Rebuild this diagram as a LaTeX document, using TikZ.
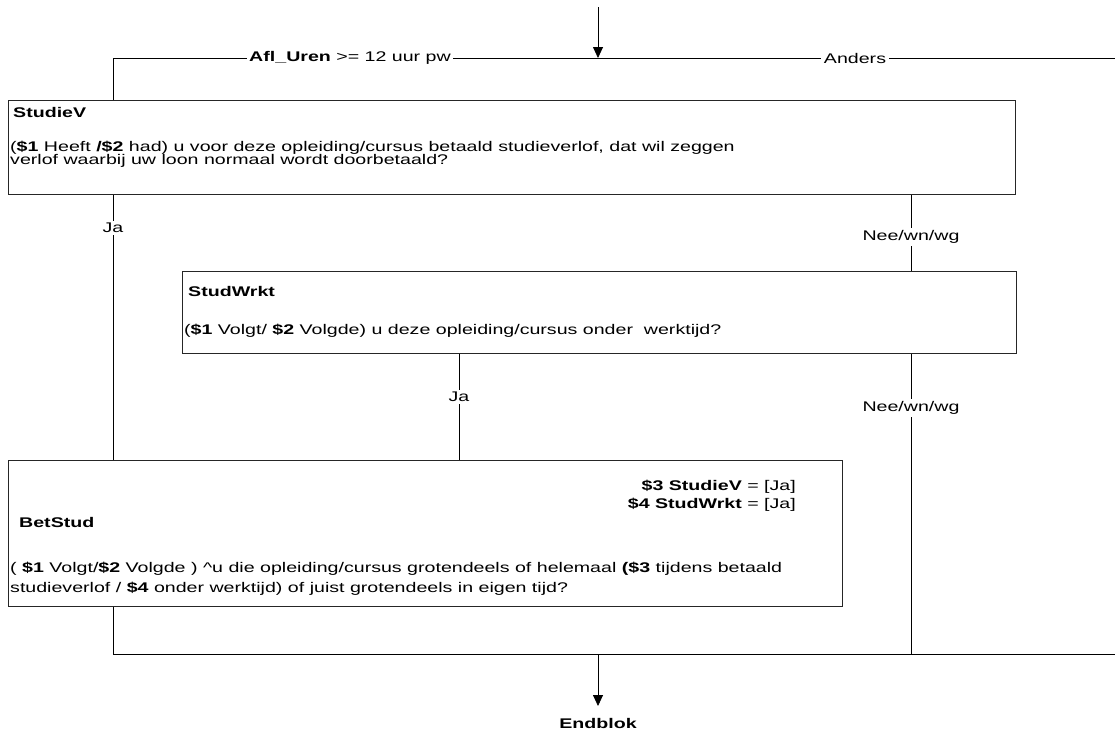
\documentclass[tikz,border=0pt]{standalone}
\usepackage{fontspec}
\setmainfont[FakeStretch=1.4]{Liberation Sans}
\usetikzlibrary{arrows.meta, positioning}

\newcommand{\qfont}{\fontsize{14}{14}\selectfont}

\tikzset{
  qbox/.style={draw=black!85, line width=1.2pt, anchor=north west, inner sep=0pt},
  qtitle/.style={anchor=base west, inner sep=0pt, font=\qfont\bfseries},
  qtext/.style={anchor=base west, inner sep=0pt, font=\qfont},
  route/.style={line width=0.8pt},
  cond/.style={fill=white, inner sep=2.5pt, font=\qfont},
}

\begin{document}
\begin{tikzpicture}[x=1pt, y=-1pt, font=\qfont]
            \useasboundingbox (0,0) rectangle (1115,734);
            % Question boxes
            \node[qbox, minimum width=1007pt, minimum height=94pt] (studiev) at (8,100) {};
            \node[qbox, minimum width=834pt, minimum height=82pt] (studwrkt) at (182,271) {};
            \node[qbox, minimum width=834pt, minimum height=146pt] (betstud) at (8,460) {};
            % StudieV texts
            \node[qtitle] (studievName) at (13,117) {StudieV};
            \node[qtext] (studievQa) at (10,151)
               {(\textbf{\$1} Heeft \textbf{/\$2} had) u voor deze opleiding/cursus betaald studieverlof, dat wil zeggen};
            \node[qtext] (studievQb) at (10,164)
               {verlof waarbij uw loon normaal wordt doorbetaald?};
            % StudWrkt texts
            \node[qtitle] (studwrktName) at (188,296) {StudWrkt};
            \node[qtext] (studwrktQ) at (184,334)
               {(\textbf{\$1} Volgt/ \textbf{\$2} Volgde) u deze opleiding/cursus onder\ \ werktijd?};
            % BetStud texts
            \node[qtext, anchor=base east] (betstudCa) at (796,490) {\textbf{\$3 StudieV} = [Ja]};
            \node[qtext, anchor=base east] (betstudCb) at (796,508) {\textbf{\$4 StudWrkt} = [Ja]};
            \node[qtitle] (betstudName) at (19,527) {BetStud};
            \node[qtext] (betstudQa) at (10,572)
               {( \textbf{\$1} Volgt/\textbf{\$2} Volgde ) \textasciicircum{}u die opleiding/cursus grotendeels of helemaal \textbf{(\$3} tijdens betaald};
            \node[qtext] (betstudQb) at (10,592)
               {studieverlof / \textbf{\$4} onder werktijd) of juist grotendeels in eigen tijd?};
            % Routing points
            \coordinate (entry) at (598,7);
            \coordinate (split) at (598,58);
            \coordinate (topL) at (113,58);
            \coordinate (topR) at (1115,58);
            \coordinate (colJa) at (459,0);
            \coordinate (colNee) at (911,0);
            \coordinate (botL) at (113,654);
            \coordinate (botR) at (1115,654);
            \coordinate (merge) at (598,654);
            % Entry and split
            \draw[route] (topR) -- (topL) -- (topL |- studiev.north);
            \draw[route, -{Triangle[width=10pt, length=11pt]}] (entry) -- (split);
            \node[cond] (aflUren) at (350,58) {\textbf{Afl\_Uren} >= 12 uur pw};
            \node[cond] (anders) at (855,58) {Anders};
            % StudieV answers
            \draw[route] (studiev.south -| topL) -- (betstud.north -| topL);
            \node[cond] (jaStudieV) at (113,228) {Ja};
            \draw[route] (studiev.south -| colNee) -- (studwrkt.north -| colNee);
            \node[cond] (neeStudieV) at (911,237) {Nee/wn/wg};
            % StudWrkt answers
            \draw[route] (studwrkt.south -| colJa) -- (betstud.north -| colJa);
            \node[cond] (jaStudWrkt) at (459,397) {Ja};
            \draw[route] (studwrkt.south -| colNee) -- (botL -| colNee);
            \node[cond] (neeStudWrkt) at (911,408) {Nee/wn/wg};
            % Merge to end
            \draw[route] (betstud.south -| botL) -- (botL) -- (botR);
            \draw[route, -{Triangle[width=10pt, length=11pt]}] (merge) -- (598,706);
            \node[anchor=base, inner sep=0pt, font=\qfont\bfseries] (endblok) at (598,728) {Endblok};
         \end{tikzpicture}
\end{document}
